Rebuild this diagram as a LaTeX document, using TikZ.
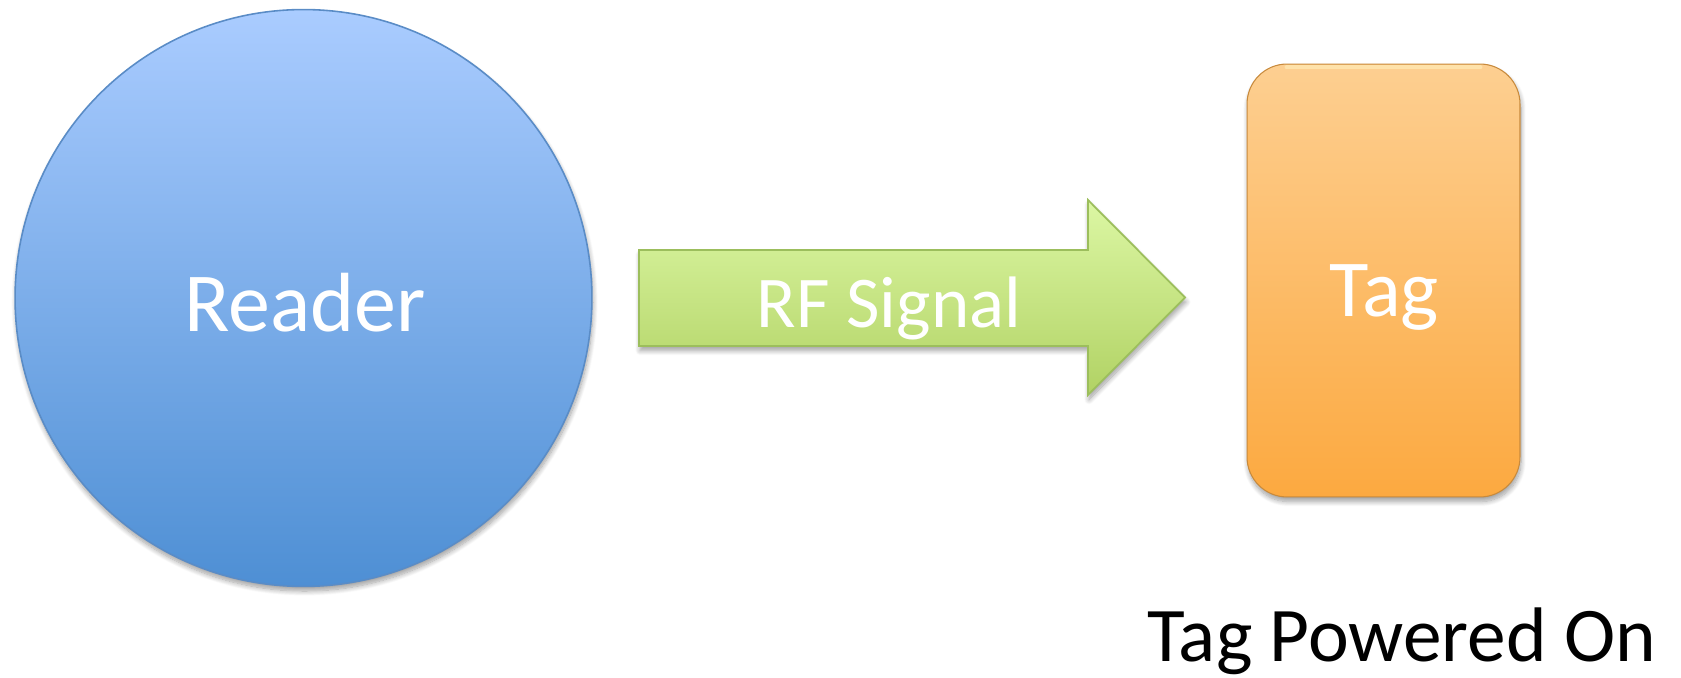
\documentclass[tikz,border=0pt]{standalone}
\usepackage{fontspec}
\setmainfont{Carlito}
\usetikzlibrary{shadows.blur}

\definecolor{discTop}{HTML}{AACCFF}
\definecolor{discBottom}{HTML}{4E8FD4}
\definecolor{discEdge}{HTML}{5A8CC6}
\definecolor{arrowTop}{HTML}{DCF7A4}
\definecolor{arrowBottom}{HTML}{B1D264}
\definecolor{arrowEdge}{HTML}{9CBE5C}
\definecolor{tagTop}{HTML}{FDCF91}
\definecolor{tagBottom}{HTML}{FCA940}
\definecolor{tagEdge}{HTML}{C88A3C}
\definecolor{tagGlow}{HTML}{FFF3C0}

\tikzset{
  softshadow/.style={blur shadow={shadow xshift=0.6pt, shadow yshift=-2.6pt,
      shadow blur radius=2.8pt, shadow blur steps=10, shadow opacity=38}},
  disc/.style={circle, draw=discEdge, line width=0.9pt, top color=discTop,
      bottom color=discBottom, inner sep=0pt, softshadow},
  blockarrow/.style={draw=arrowEdge, line width=1pt, top color=arrowTop,
      bottom color=arrowBottom, line join=miter, softshadow},
  tagbox/.style={rectangle, rounded corners=0.8cm, draw=tagEdge, line width=0.6pt,
      top color=tagTop, bottom color=tagBottom, inner sep=0pt, softshadow},
  whitetext/.style={text=white, inner sep=0pt, anchor=base},
}

\begin{document}
\begin{tikzpicture}[x=0.02cm, y=-0.02cm]
\useasboundingbox (0,0) rectangle (1681,678);

% Reader disc
\node[disc, minimum size=11.54cm] (reader) at (303.5,298) {};
\node[whitetext, font=\fontsize{47.8}{52}\selectfont] (readertext) at (305,332) {Reader};

% RF signal block arrow
\coordinate (a1) at (639,250);
\coordinate (a2) at (1088,250);
\coordinate (a3) at (1088,200);
\coordinate (tip) at (1185,297.5);
\coordinate (a5) at (1088,395);
\coordinate (a6) at (1088,346);
\coordinate (a7) at (639,346);
\path[blockarrow] (a1) -- (a2) -- (a3) -- (tip) -- (a5) -- (a6) -- (a7) -- cycle;
\node[whitetext, font=\fontsize{41.5}{46}\selectfont] (signaltext) at (889,328) {RF Signal};

% Tag card with a soft bevel glow along its top edge
\node[tagbox, minimum width=5.46cm, minimum height=8.66cm] (tag) at (1383.5,280.5) {};
\draw[tagGlow, opacity=0.55, line width=2.2pt, line cap=round]
  ([xshift=0.8cm,yshift=-2.2pt]tag.north west) -- ([xshift=-0.8cm,yshift=-2.2pt]tag.north east);
\node[whitetext, font=\fontsize{46}{50}\selectfont] (tagtext) at (1384,317) {Tag};

% State caption
\node[inner sep=0pt, anchor=base west, font=\fontsize{44}{48}\selectfont] (caption) at (1147,662) {Tag Powered On};
\end{tikzpicture}
\end{document}
